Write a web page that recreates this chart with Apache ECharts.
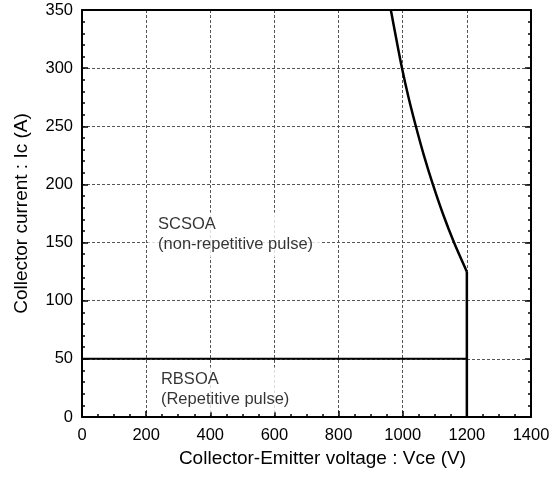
<!DOCTYPE html>
<html>
<head>
<meta charset="utf-8">
<script src="https://cdn.jsdelivr.net/npm/echarts@6/dist/echarts.min.js"></script>
<style>html,body{margin:0;padding:0;background:#fff;}#c{width:555px;height:483px;}</style>
</head>
<body>
<div id="c"></div>
<script>
// Data
const xTicks = [0, 200, 400, 600, 800, 1000, 1200, 1400];
const yTicks = [0, 50, 100, 150, 200, 250, 300, 350];
const scsoaCurve = [[963,350],[980,325],[997,301],[1018,275],[1041,250],[1066,225],[1094,200],[1125,175],[1160,150],[1200,125]];
const scsoaDrop = [[1200,125],[1200,0]];
const rbsoaLine = [[0,50],[1200,50]];
const annotations = [
  {pos: [206, 175.8], text: 'SCSOA\n(non-repetitive pulse)'},
  {pos: [215, 42.6], text: 'RBSOA\n(Repetitive pulse)'}
];
const xName = 'Collector-Emitter voltage : Vce (V)';
const yName = 'Collector current : Ic (A)';

const FONT = 'Liberation Sans, Arial, sans-serif';
const chart = echarts.init(document.getElementById('c'), null, {renderer: 'canvas'});
const gridLine = {show: true, lineStyle: {color: '#555', type: [3, 2], width: 1}};
const axisLineStyle = {show: true, onZero: false, lineStyle: {color: '#000', width: 2}};
const tickStyle = {show: true, inside: true, length: 6, lineStyle: {color: '#000', width: 1.5}};
const fmt = v => String(v);
chart.setOption({
  backgroundColor: '#fff',
  animation: false,
  grid: {left: 82, right: 24, top: 10, bottom: 66},
  xAxis: [{
    type: 'value', min: xTicks[0], max: xTicks[xTicks.length-1], interval: 200, position: 'bottom',
    axisLine: axisLineStyle,
    axisTick: tickStyle,
    minorTick: {show: true, splitNumber: 4, length: 3, lineStyle: {color: '#000', width: 1.5}},
    splitLine: gridLine,
    axisLabel: {color: '#000', fontSize: 16.5, fontFamily: FONT, margin: 10, formatter: fmt},
    name: xName, nameLocation: 'middle', nameGap: 30,
    nameTextStyle: {color: '#000', fontSize: 19, fontFamily: FONT, padding: [0, 0, 0, 32]}
  }, {
    type: 'value', min: xTicks[0], max: xTicks[xTicks.length-1], interval: 200, position: 'top',
    axisLine: axisLineStyle, axisTick: {show: false}, axisLabel: {show: false}, splitLine: {show: false}
  }],
  yAxis: [{
    type: 'value', min: yTicks[0], max: yTicks[yTicks.length-1], interval: 50, position: 'left',
    axisLine: axisLineStyle,
    axisTick: tickStyle,
    minorTick: {show: true, splitNumber: 5, length: 3, lineStyle: {color: '#000', width: 1.5}},
    splitLine: gridLine,
    axisLabel: {color: '#000', fontSize: 16.5, fontFamily: FONT, margin: 9, formatter: fmt},
    name: yName, nameLocation: 'middle', nameGap: 51,
    nameTextStyle: {color: '#000', fontSize: 19, fontFamily: FONT}
  }, {
    type: 'value', min: yTicks[0], max: yTicks[yTicks.length-1], interval: 50, position: 'right',
    axisLine: axisLineStyle,
    axisTick: tickStyle,
    minorTick: {show: true, splitNumber: 5, length: 3, lineStyle: {color: '#000', width: 1.5}},
    splitLine: {show: false}, axisLabel: {show: false}
  }],
  series: [
    {type: 'scatter', symbolSize: 0, z: 1, silent: true,
     data: annotations.map(a => ({value: a.pos, text: a.text})),
     label: {show: true, position: [0, 0], align: 'left', verticalAlign: 'top',
       formatter: p => p.data.text, color: '#000', fontSize: 16.5, lineHeight: 20, fontFamily: FONT,
       backgroundColor: '#fff', padding: [2, 9, 3, 10]}},
    {type: 'line', data: scsoaCurve, smooth: 0.3, symbol: 'none', z: 4, lineStyle: {color: '#000', width: 2.5}},
    {type: 'line', data: scsoaDrop, symbol: 'none', z: 4, lineStyle: {color: '#000', width: 2.5}},
    {type: 'line', data: rbsoaLine, symbol: 'none', z: 4, lineStyle: {color: '#000', width: 2}}
  ]
});
</script>
</body>
</html>
